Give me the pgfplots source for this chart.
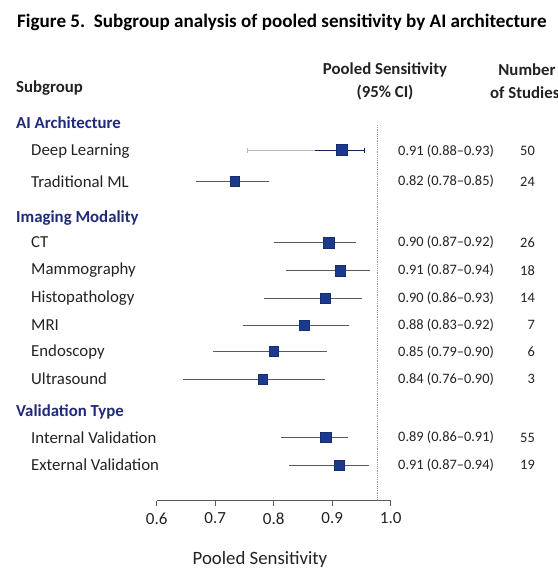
\documentclass[border=0pt]{standalone}
\usepackage{fontspec}
\setmainfont{Carlito}
\usepackage{pgfplots}
\pgfplotsset{compat=1.18}
\usepackage{pgfplotstable}
\definecolor{navy}{HTML}{1B3A8C}
\definecolor{hdr}{HTML}{1F2A78}
\definecolor{bargray}{HTML}{5A5A5A}
\definecolor{txt}{HTML}{222222}

% y = vertical row position (pixels from top, negated)
\pgfplotstableread{
y est lo hi s
-181 0.733 0.672 0.788 4.7
-242.5 0.894 0.804 0.937 5.3
-270.5 0.914 0.825 0.960 5.2
-298 0.888 0.788 0.946 4.8
-325 0.852 0.751 0.925 4.7
-351 0.800 0.701 0.886 4.7
-379 0.781 0.650 0.883 4.7
-437 0.889 0.816 0.922 5.3
-465 0.912 0.831 0.958 5.2
}\rows

\pgfplotstableread{
y est lo hi mid s
-150 0.917 0.755 0.955 0.871 5.5
}\dl

\newcommand\body{\fontsize{16.8}{19}\selectfont}

\begin{document}
\begin{tikzpicture}[every node/.style={inner sep=0pt}]
\path[use as bounding box] (0,0) rectangle (557pt,-578pt);

\begin{axis}[
  at={(156.7pt,-500.7pt)}, anchor=south west,
  scale only axis, width=234pt, height=390.7pt,
  xmin=0.6, xmax=1.0, ymin=-500.7, ymax=-110,
  hide y axis, axis x line*=bottom,
  x axis line style={-, line width=0.7pt, color=bargray},
  xtick={0.6,0.7,0.8,0.9,1.0},
  xticklabels={0.6,0.7,0.8,0.9,1.0},
  tick align=outside, major tick length=5pt,
  tick style={line width=0.7pt, color=bargray},
  x tick label style={font=\fontsize{17}{19}\selectfont, text=txt, inner sep=2pt, yshift=-5pt},
  /pgf/number format/assume math mode=true,
  clip=false,
]
% reference (dotted) line
\addplot[color=gray!80, line width=0.8pt, dash pattern=on 1.2pt off 1pt] coordinates {(0.977,-125) (0.977,-500.7)};

% Deep Learning CI (light left part, dark right part)
\addplot[color=gray!55, line width=0.8pt] coordinates {(0.755,-150) (0.871,-150)};
\addplot[color=gray!55, mark=|, mark size=2.5pt, only marks, mark options={line width=0.8pt}] table[x=lo,y=y] {\dl};
\addplot[color=navy!60!black, line width=1pt] coordinates {(0.871,-150) (0.955,-150)};
\addplot[color=navy!60!black, mark=|, mark size=2.5pt, only marks, mark options={line width=0.8pt}] table[x=hi,y=y] {\dl};

% other CIs
\addplot[only marks, mark=none,
  error bars/.cd, x dir=both, x explicit,
  error bar style={line width=0.8pt, color=bargray},
  error mark options={line width=0.8pt, color=bargray, mark size=2.5pt}]
  table[x=est, y=y,
        x error plus expr=\thisrow{hi}-\thisrow{est},
        x error minus expr=\thisrow{est}-\thisrow{lo}] {\rows};

% squares
\addplot[scatter, only marks, mark=square*, point meta=explicit,
  visualization depends on={\thisrow{s} \as \msize},
  scatter/use mapped color={fill=navy, draw=navy!80!black},
  scatter/@pre marker code/.append style={/tikz/mark size=\msize},
  mark options={line width=0.4pt}]
  table[x=est, y=y, meta=s] {\rows};
\addplot[scatter, only marks, mark=square*, point meta=explicit,
  visualization depends on={\thisrow{s} \as \msize},
  scatter/use mapped color={fill=navy, draw=navy!80!black},
  scatter/@pre marker code/.append style={/tikz/mark size=\msize},
  mark options={line width=0.4pt}]
  table[x=est, y=y, meta=s] {\dl};
\end{axis}

% title
\node[anchor=west, font=\fontsize{19.1}{22}\selectfont\bfseries, text=black] at (17pt,-22pt)
  {Figure 5.\ \ Subgroup analysis of pooled sensitivity by AI architecture};

% column headers
\node[anchor=west, font=\body\bfseries, text=txt] at (16pt,-88pt) {Subgroup};
\node[anchor=center, font=\body\bfseries, text=txt] at (385pt,-70pt) {Pooled Sensitivity};
\node[anchor=center, font=\body\bfseries, text=txt] at (385pt,-93pt) {(95\% CI)};
\node[anchor=center, font=\body\bfseries, text=txt] at (527pt,-70pt) {Number};
\node[anchor=west, font=\body\bfseries, text=txt] at (490pt,-93pt) {of Studies};

% group headers
\node[anchor=west, font=\body\bfseries, text=hdr] at (16pt,-123pt) {AI Architecture};
\node[anchor=west, font=\body\bfseries, text=hdr] at (16pt,-218pt) {Imaging Modality};
\node[anchor=west, font=\body\bfseries, text=hdr] at (16pt,-412pt) {Validation Type};

% row labels
\foreach \lab/\yy in {Deep Learning/151, Traditional ML/181.5, CT/242.5, Mammography/270.5,
  Histopathology/298, MRI/325, Endoscopy/352, Ultrasound/379,
  Internal Validation/437.5, External Validation/465}
  \node[anchor=west, font=\body, text=txt] at (31pt,-\yy pt) {\lab};

% estimates and counts
\foreach \est/\n/\yy in {0.91 (0.88--0.93)/50/151, 0.82 (0.78--0.85)/24/181.5,
  0.90 (0.87--0.92)/26/242.5, 0.91 (0.87--0.94)/18/270.5, 0.90 (0.86--0.93)/14/298,
  0.88 (0.83--0.92)/7/325, 0.85 (0.79--0.90)/6/352, 0.84 (0.76--0.90)/3/379,
  0.89 (0.86--0.91)/55/437.5, 0.91 (0.87--0.94)/19/465}
{
  \node[anchor=west, font=\fontsize{14.4}{16}\selectfont, text=txt] at (398pt,-\yy pt) {\est};
  \node[anchor=east, font=\fontsize{14.4}{16}\selectfont, text=txt] at (535pt,-\yy pt) {\n};
}

% x label
\node[anchor=center, font=\fontsize{18.8}{21}\selectfont, text=txt] at (260pt,-559pt) {Pooled Sensitivity};
\end{tikzpicture}
\end{document}
